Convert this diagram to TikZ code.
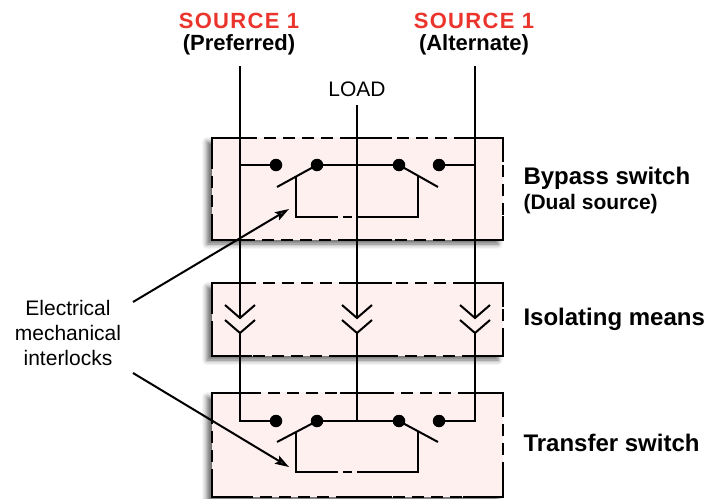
\documentclass[tikz,border=0pt]{standalone}
\usepackage{fontspec}
\setmainfont{Liberation Sans}
\usetikzlibrary{arrows.meta, shadows.blur}
\definecolor{boxpink}{RGB}{255,240,240}
\definecolor{srcred}{RGB}{234,52,44}

\begin{document}
\begin{tikzpicture}[x=1pt, y=-1pt,
    wire/.style={line width=2pt},
    dot/.style={circle, fill=black, inner sep=0pt, minimum size=12.5pt},
    panel/.style={fill=boxpink, blur shadow={shadow xshift=-5pt, shadow yshift=-4pt, shadow blur radius=5pt, shadow opacity=60}},
    panelborder/.style={line width=2pt, dash pattern=on 12pt off 7pt},
    srctext/.style={font=\bfseries\fontsize{22}{26}\selectfont},
    paneltext/.style={anchor=west, font=\bfseries\fontsize{24}{28}\selectfont},
    subtext/.style={anchor=west, font=\bfseries\fontsize{21}{25}\selectfont},
    plaintext/.style={font=\fontsize{21}{25}\selectfont},
    pointer/.style={line width=2pt, -{Stealth[length=14pt, width=9pt, inset=2.5pt]}}]
    \useasboundingbox (0,0) rectangle (727,498);

    % Draw the three panels with their shadows
    \foreach \ya/\yb in {138/240, 283/356, 393/497} {
        \fill[panel] (212,\ya) rectangle (503,\yb);
    }
    % Dashed borders, solid at the corners and at the middle
    \foreach \ya/\yb in {138/240, 283/356, 393/497} {
        \draw[panelborder] (212,\ya) rectangle (503,\yb);
        \draw[wire] (212,\ya+24) -- (212,\ya) -- (252,\ya);
        \draw[wire] (463,\ya) -- (503,\ya) -- (503,\ya+24);
        \draw[wire] (212,\yb-24) -- (212,\yb) -- (252,\yb);
        \draw[wire] (463,\yb) -- (503,\yb) -- (503,\yb-24);
        \draw[wire] (340,\ya) -- (392,\ya);
        \draw[wire] (340,\yb) -- (392,\yb);
    }

    % Sources and load
    \node[srctext, text=srcred] (srcA) at (239,21) {\addfontfeature{LetterSpace=6}SOURCE 1};
    \node[srctext] (prefA) at (239,45) {(Preferred)};
    \node[srctext, text=srcred] (srcB) at (474,21) {\addfontfeature{LetterSpace=6}SOURCE 1};
    \node[srctext] (prefB) at (474,45) {(Alternate)};
    \node[plaintext] (load) at (357,89) {LOAD};

    % Feeder lines down to the isolating means
    \coordinate (feedA) at (240,66);
    \coordinate (feedB) at (475,66);
    \coordinate (feedL) at (357,105);
    \coordinate (plugA) at (240,318);
    \coordinate (plugL) at (357,318);
    \coordinate (plugB) at (475,318);
    \draw[wire] (feedA) -- (plugA);
    \draw[wire] (feedL) -- (plugL);
    \draw[wire] (feedB) -- (plugB);

    % Bypass switch contacts
    \node[dot] (b1) at (276,165) {};
    \node[dot] (b2) at (317,165) {};
    \node[dot] (b3) at (399,165) {};
    \node[dot] (b4) at (439,165) {};
    \draw[wire] (240,165) -- (b1);
    \draw[wire] (b2) -- (b3);
    \draw[wire] (b4) -- (475,165);
    \draw[wire] (b2.center) -- (277,187);
    \draw[wire] (b3.center) -- (438,187);
    % interlock of the bypass switch
    \draw[wire] (296,176.5) -- (296,217) -- (338,217);
    \draw[wire] (343,217) -- (352,217);
    \draw[wire] (357,217) -- (418,217) -- (418,175.5);

    % Isolating means: plug and socket on each line
    \foreach \x in {240, 357, 475} {
        \draw[wire] (\x-15,305) -- (\x,318) -- (\x+15,305);
        \draw[wire] (\x-15,320) -- (\x,333) -- (\x+15,320);
    }
    \coordinate (sockA) at (240,333);
    \coordinate (sockL) at (357,333);
    \coordinate (sockB) at (475,333);

    % Transfer switch contacts
    \node[dot] (t1) at (276,421) {};
    \node[dot] (t2) at (317,421) {};
    \node[dot] (t3) at (399,421) {};
    \node[dot] (t4) at (439,421) {};
    \draw[wire] (sockA) -- (240,421) -- (t1);
    \draw[wire] (t2) -- (t3);
    \draw[wire] (sockL) -- (357,421);
    \draw[wire] (t4) -- (475,421) -- (sockB);
    \draw[wire] (t2.center) -- (277,442);
    \draw[wire] (t3.center) -- (438,442);
    % interlock of the transfer switch
    \draw[wire] (296,432.5) -- (296,472) -- (338,472);
    \draw[wire] (343,472) -- (352,472);
    \draw[wire] (357,472) -- (418,472) -- (418,431.5);

    % Panel labels
    \node[paneltext] (bypass) at (520,178) {Bypass switch};
    \node[subtext] (dual) at (520,204) {(Dual source)};
    \node[paneltext] (isolate) at (520,319) {Isolating means};
    \node[paneltext] (transfer) at (520,443) {Transfer switch};

    % Interlock callout
    \node[plaintext, align=center] (interlocks) at (68,333) {Electrical\\mechanical\\interlocks};
    \coordinate (calloutA) at (133,302);
    \coordinate (lockA) at (289,209);
    \coordinate (calloutB) at (133,373);
    \coordinate (lockB) at (289,467);
    \draw[pointer] (calloutA) -- (lockA);
    \draw[pointer] (calloutB) -- (lockB);
\end{tikzpicture}
\end{document}
